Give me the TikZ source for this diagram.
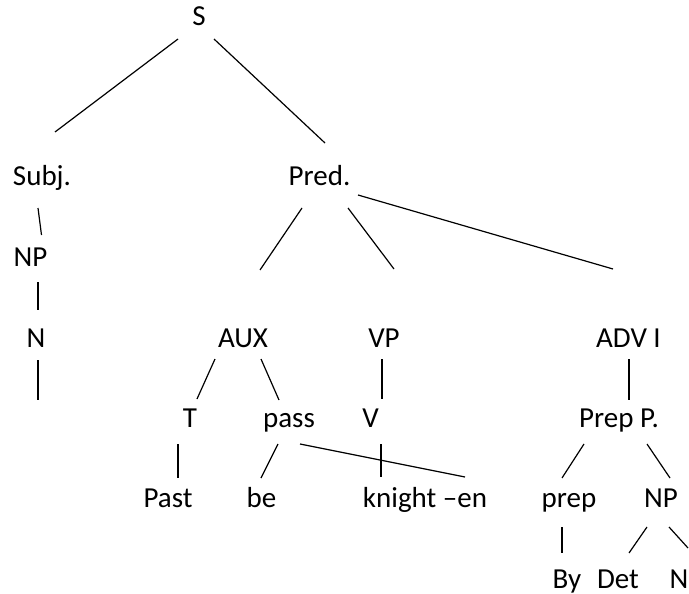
\documentclass[tikz,border=0pt]{standalone}
\usepackage{fontspec}
\setmainfont{Carlito}
\begin{document}
\begin{tikzpicture}[x=1pt,y=-1pt,
  lbl/.style={inner sep=0pt,anchor=base,font=\fontsize{29}{31}\selectfont},
  branch/.style={line width=1.2pt}]
\useasboundingbox (0,0) rectangle (689,594);
\fill[white] (0,0) rectangle (689,594);

% labels of the tree
\node[lbl] (S)     at (199,26)    {S};
\node[lbl] (Subj)  at (42,185)    {Subj.};
\node[lbl] (NPa)   at (30.5,266)  {NP};
\node[lbl] (Na)    at (36,347)    {N};
\node[lbl] (Pred)  at (319.5,185) {Pred.};
\node[lbl] (AUX)   at (243,347)   {AUX};
\node[lbl] (VP)    at (384,347)   {VP};
\node[lbl] (ADV)   at (628.5,347) {ADV I};
\node[lbl] (T)     at (190,427)   {T};
\node[lbl] (pass)  at (289,427)   {pass};
\node[lbl] (V)     at (370.5,427) {V};
\node[lbl] (PrepP) at (619,427)   {Prep P.};
\node[lbl] (Past)  at (168,507)   {Past};
\node[lbl] (be)    at (261.5,507) {be};
\node[lbl] (kn)    at (425,507)   {knight \textendash en};
\node[lbl] (prep)  at (569,507)   {prep};
\node[lbl] (NPb)   at (661,507)   {NP};
\node[lbl] (By)    at (567,588)   {By};
\node[lbl] (Det)   at (618,588)   {Det};
\node[lbl] (Nb)    at (679,588)   {N};
\coordinate (stub) at (38,400);

% branches: each end is offset from the base point of its label
\newcommand{\treeedge}[6]{%
  \draw[branch] ([shift={(#2,#3)}]#1.base) -- ([shift={(#5,#6)}]#4.base);}
\treeedge{S}{-21}{13}{Subj}{13}{-53}
\treeedge{S}{15}{13}{Pred}{5.5}{-42}
\treeedge{Subj}{-4}{23}{NPa}{11}{-31}
\treeedge{NPa}{7.5}{16}{Na}{2}{-37}
\draw[branch] ([shift={(2,13)}]Na.base) -- (stub);
\treeedge{Pred}{-17.5}{23}{AUX}{17}{-77}
\treeedge{Pred}{28.5}{23}{VP}{10}{-78}
\treeedge{Pred}{38.5}{10}{ADV}{-15.5}{-78}
\treeedge{AUX}{-28}{12}{T}{7}{-28}
\treeedge{AUX}{18}{12}{pass}{-10}{-27}
\treeedge{VP}{-2}{12}{V}{11.5}{-28}
\treeedge{ADV}{0.5}{12}{PrepP}{10}{-27}
\treeedge{T}{-12}{17}{Past}{10}{-29}
\treeedge{pass}{-11}{17}{be}{-0.5}{-29}
\treeedge{pass}{11}{17}{kn}{40}{-30}
\treeedge{V}{10.5}{17}{kn}{-44}{-30}
\treeedge{PrepP}{-35}{17}{prep}{-7}{-29}
\treeedge{PrepP}{28}{17}{NPb}{9}{-29}
\treeedge{prep}{-7}{20}{By}{-5}{-35}
\treeedge{NPb}{-14}{20}{Det}{11}{-35}
\treeedge{NPb}{8}{20}{Nb}{9}{-40}
\end{tikzpicture}
\end{document}
